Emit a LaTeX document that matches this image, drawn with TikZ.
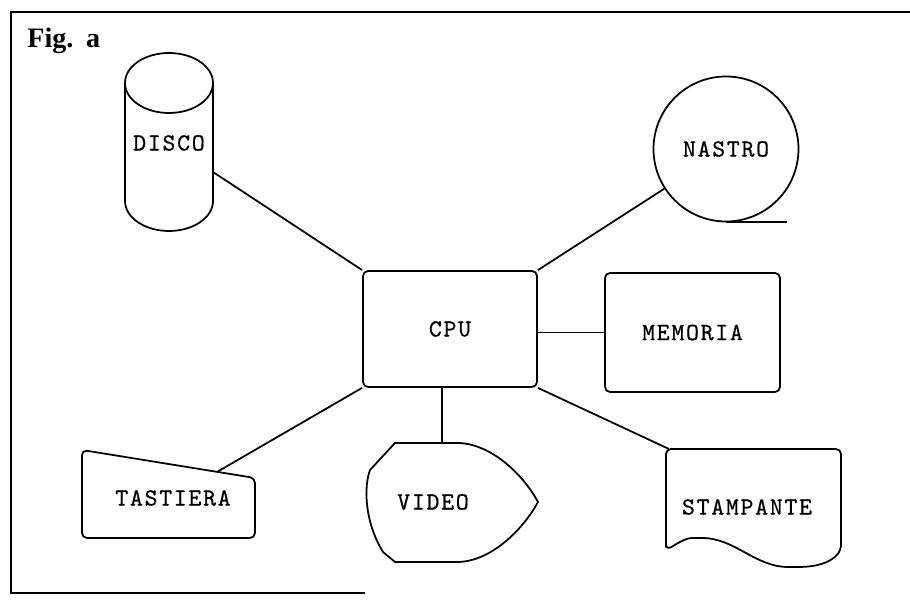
\documentclass[tikz,border=0pt]{standalone}
\usepackage{fontspec}
\setmonofont[LetterSpace=7, FakeBold=0.6]{lmmono10-regular.otf}
\newfontfamily\figfont{Liberation Serif}
\usetikzlibrary{positioning, calc}

\begin{document}
\begin{tikzpicture}[
    box/.style={draw, rounded corners=1mm, line width=1pt},
    lbl/.style={font=\fontsize{14}{16}\selectfont\ttfamily},
    wire/.style={line width=1pt},
    outline/.style={line width=1pt, line join=round}
]
\useasboundingbox (0,0) rectangle (18.2,12.02);

% Frame
\draw[wire] (18.2,11.78) -- (0.22,11.78) -- (0.22,0.16) -- (7.3,0.16);
\node[font=\figfont\bfseries\fontsize{16}{18}\selectfont, anchor=base west, inner sep=0pt] (title) at (0.54,11.06) {Fig.\hspace{0.45em}a};

% CPU and memory
\node[box, lbl, minimum width=3.48cm, minimum height=2.32cm] (cpu) at (9.0,5.44) {CPU};
\node[box, lbl, minimum width=3.5cm, minimum height=2.38cm] (mem) at (13.85,5.37) {MEMORIA};

% Disk
\node[lbl] (disco) at (3.38,9.16) {DISCO};
\draw[outline] (3.38,10.36) ellipse (0.88 and 0.6);
\draw[outline] (2.5,10.36) -- (2.5,8.0) arc[start angle=180, end angle=360, x radius=0.88, y radius=0.6] -- (4.26,10.36);
\coordinate (disco-r) at (4.26,8.58);

% Tape
\node[lbl, draw, circle, line width=1pt, minimum size=2.9cm] (nastro) at (14.52,9.04) {NASTRO};
\draw[wire] (nastro.south) -- ++(1.22,0);

% Keyboard
\node[lbl] (tast) at (3.46,2.06) {TASTIERA};
\draw[outline, rounded corners=1mm] (1.64,3.02) -- (5.1,2.46) -- (5.1,1.26) -- (1.64,1.26) -- cycle;
\coordinate (tast-n) at (4.34,2.58);

% Display
\node[lbl] (video) at (8.66,1.98) {VIDEO};
\draw[outline] (7.9,3.16) -- (9.14,3.16) .. controls (9.8,3.16) and (10.45,2.55) .. (10.76,1.98)
    .. controls (10.45,1.41) and (9.8,0.78) .. (9.14,0.78) -- (7.9,0.78) -- (7.66,0.98)
    .. controls (7.28,1.6) and (7.28,2.3) .. (7.4,2.62) -- cycle;
\coordinate (video-n) at (8.84,3.16);

% Printer
\node[lbl] (stamp) at (14.94,1.88) {STAMPANTE};
\draw[outline, rounded corners=1mm] (13.32,1.02) -- (13.32,3.04) -- (16.82,3.04) -- (16.82,1.02)
    .. controls (16.6,0.75) and (16.3,0.68) .. (15.86,0.68)
    .. controls (15.1,0.68) and (14.7,1.26) .. (13.94,1.26)
    .. controls (13.7,1.26) and (13.5,1.12) .. (13.32,1.02) -- cycle;
\coordinate (stamp-nw) at (13.38,3.04);

% Connections
\draw[wire] (disco-r) -- (cpu.north west);
\draw[wire] (cpu.north east) -- (nastro);
\draw[wire] (cpu.east |- mem.west) -- (mem.west);
\draw[wire] (cpu.south east) -- (stamp-nw);
\draw[wire] (cpu.south -| video-n) -- (video-n);
\draw[wire] (cpu.south west) -- (tast-n);

\end{tikzpicture}
\end{document}
